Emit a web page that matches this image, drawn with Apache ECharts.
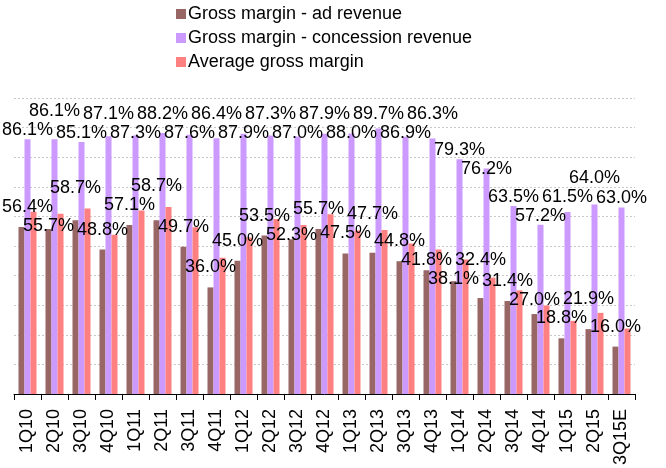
<!DOCTYPE html>
<html><head><meta charset="utf-8">
<script src="https://cdn.jsdelivr.net/npm/echarts@6/dist/echarts.min.js"></script>
<style>html,body{margin:0;padding:0;background:#fff}#c{width:666px;height:468px}</style>
</head><body><div id="c"></div>
<script>
const categories = ['1Q10','2Q10','3Q10','4Q10','1Q11','2Q11','3Q11','4Q11','1Q12','2Q12','3Q12','4Q12','1Q13','2Q13','3Q13','4Q13','1Q14','2Q14','3Q14','4Q14','1Q15','2Q15','3Q15E'];
const adMargin = [56.4,55.7,58.7,48.8,57.1,58.7,49.7,36.0,45.0,53.5,52.3,55.7,47.5,47.7,44.8,41.8,38.1,32.4,31.4,27.0,18.8,21.9,16.0];
const concessionMargin = [86.1,86.1,85.1,87.1,87.3,88.2,87.6,86.4,87.9,87.3,87.0,87.9,88.0,89.7,86.9,86.3,79.3,76.2,63.5,57.2,61.5,64.0,63.0];
const averageMargin = [61.6,60.9,62.7,53.8,62.0,63.2,56.3,46.0,52.9,59.1,57.1,60.7,55.2,55.4,50.8,48.8,45.4,39.3,35.0,29.9,24.7,27.4,22.1];
const seriesNames = ['Gross margin - ad revenue','Gross margin - concession revenue','Average gross margin'];

const FONT = '"Liberation Sans", Arial, sans-serif';
const placed = [];
function avoidOverlap(params) {
  if (params.seriesIndex === 0 && params.dataIndex === 0) placed.length = 0;
  const r = params.labelRect;
  const gap = 1;
  let dx = 0;
  if (r.x < 2) dx = 2 - r.x;
  const x1 = r.x + dx, x2 = x1 + r.width;
  const hits = (y1) => placed.some(p => x1 < p.x2 && x2 > p.x1 && y1 < p.y2 && y1 + r.height > p.y1);
  const cands = [0];
  placed.forEach(p => {
    if (x1 < p.x2 && x2 > p.x1) {
      cands.push(p.y1 - gap - r.height - r.y);
      cands.push(p.y2 + gap - r.y);
    }
  });
  cands.sort((a, b) => Math.abs(a) - Math.abs(b));
  let dy = 0;
  for (const c of cands) {
    if (!hits(r.y + c) && r.y + c >= 0) { dy = c; break; }
  }
  placed.push({x1: x1, x2: x2, y1: r.y + dy, y2: r.y + dy + r.height});
  return {dx: dx, dy: dy};
}

const pct = p => p.value.toFixed(1) + '%';
const chart = echarts.init(document.getElementById('c'), null, {renderer: 'canvas'});
chart.setOption({
  animation: false,
  backgroundColor: '#fff',
  textStyle: {fontFamily: FONT},
  legend: {
    orient: 'vertical', left: 176, top: 5, padding: 0,
    itemWidth: 10, itemHeight: 10, itemGap: 6, icon: 'rect',
    textStyle: {fontSize: 18, color: '#000', fontFamily: FONT, padding: [0, 0, 0, -3]},
    data: seriesNames
  },
  grid: {left: 14, right: 31, top: 98, bottom: 70, containLabel: false},
  xAxis: {
    type: 'category', data: categories,
    axisLine: {lineStyle: {color: '#000', width: 1}},
    axisTick: {show: true, length: 6, interval: 0, lineStyle: {color: '#000'}},
    axisLabel: {rotate: 90, fontSize: 18, color: '#000', margin: 15, interval: 0, fontFamily: FONT}
  },
  yAxis: {
    type: 'value', min: 0, max: 100, interval: 10,
    axisLine: {show: false}, axisTick: {show: false}, axisLabel: {show: false},
    splitLine: {lineStyle: {color: '#c8c8c8', type: [2, 2], width: 1}}
  },
  series: [
    {
      name: seriesNames[0], type: 'bar', data: adMargin, barWidth: 6, barGap: '0%',
      itemStyle: {color: '#996666'},
      label: {show: true, position: 'top', distance: 11, fontSize: 18, color: '#000', fontFamily: FONT, formatter: pct},
      labelLayout: avoidOverlap
    },
    {
      name: seriesNames[1], type: 'bar', data: concessionMargin, barWidth: 6, barGap: '0%',
      itemStyle: {color: '#CC99FF'},
      label: {show: true, position: 'top', distance: 0, offset: [5, 0], fontSize: 18, color: '#000', fontFamily: FONT, formatter: pct},
      labelLayout: avoidOverlap
    },
    {
      name: seriesNames[2], type: 'bar', data: averageMargin, barWidth: 6, barGap: '0%',
      itemStyle: {color: '#FF8080'}
    }
  ]
});
</script>
</body></html>
